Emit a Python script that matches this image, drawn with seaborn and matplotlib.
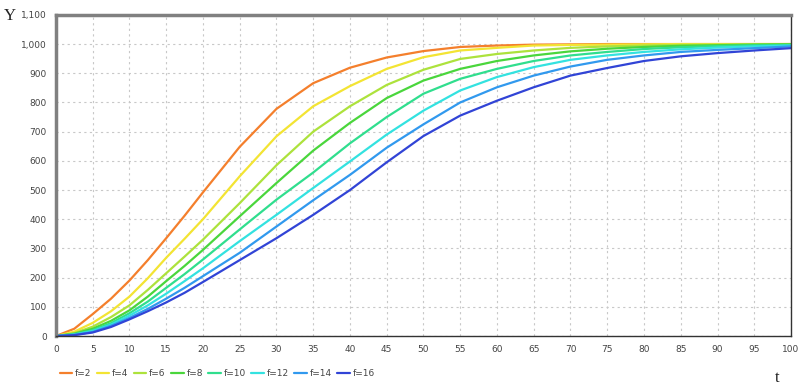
import pandas as pd
import matplotlib
matplotlib.use('Agg')
import matplotlib.pyplot as plt
from matplotlib.ticker import MultipleLocator, FuncFormatter
import seaborn as sns

# values (finer steps where the curves bend early)
t = [0, 2.5, 5, 7.5, 10, 12.5, 15, 17.5, 20, 25, 30, 35, 40, 45, 50, 55, 60, 65, 70, 75, 80, 85, 90, 95, 100]
y_f2 = [0, 25, 75, 128, 190, 260, 335, 412, 492, 648, 778, 866, 919, 954, 976, 990, 995, 998, 999, 1000, 1000, 1000, 1000, 1000, 1000]
y_f4 = [0, 15, 45, 85, 135, 198, 268, 333, 400, 547, 684, 787, 856, 915, 955, 978, 987, 995, 997, 998, 999, 1000, 1000, 1000, 1000]
y_f6 = [0, 10, 32, 65, 105, 158, 215, 272, 330, 455, 585, 700, 787, 860, 912, 949, 966, 978, 987, 992, 995, 997, 998, 999, 1000]
y_f8 = [0, 8, 25, 52, 88, 135, 188, 240, 295, 410, 524, 635, 730, 815, 875, 915, 942, 961, 975, 984, 990, 994, 996, 998, 999]
y_f10 = [0, 6, 20, 44, 78, 118, 165, 212, 262, 365, 467, 560, 660, 750, 830, 881, 915, 942, 961, 973, 983, 989, 993, 996, 997]
y_f12 = [0, 5, 17, 39, 70, 105, 145, 188, 232, 325, 415, 507, 598, 690, 772, 841, 887, 921, 946, 961, 973, 982, 988, 992, 995]
y_f14 = [0, 4, 14, 35, 62, 93, 128, 165, 205, 285, 375, 465, 552, 645, 725, 800, 852, 892, 923, 946, 961, 973, 980, 986, 992]
y_f16 = [0, 3, 12, 31, 57, 85, 115, 148, 185, 260, 335, 415, 500, 595, 685, 755, 806, 852, 892, 918, 942, 958, 969, 978, 986]

labels = ['f=2', 'f=4', 'f=6', 'f=8', 'f=10', 'f=12', 'f=14', 'f=16']
series = [y_f2, y_f4, y_f6, y_f8, y_f10, y_f12, y_f14, y_f16]
colors = ['#f47f2c', '#f3e433', '#ade23c', '#4ad63c', '#30de8e', '#33e2e0', '#3199ee', '#3144d6']

df = pd.concat([pd.DataFrame({'t': t, 'Y': s, 'f': lab}) for lab, s in zip(labels, series)])

sns.set_style('white')
fig = plt.figure(figsize=(7.99, 3.86), dpi=100)
ax = fig.add_axes([0.070, 0.1295, 0.920, 0.832])

sns.lineplot(data=df, x='t', y='Y', hue='f', hue_order=labels,
             palette=dict(zip(labels, colors)), linewidth=1.6, ax=ax)

ax.set_xlim(0, 100)
ax.set_ylim(0, 1100)
ax.xaxis.set_major_locator(MultipleLocator(5))
ax.yaxis.set_major_locator(MultipleLocator(100))
ax.yaxis.set_major_formatter(FuncFormatter(lambda v, p: f'{int(v):,}'))
ax.grid(True, color='#c8c8c8', linestyle=(0, (2, 3)), linewidth=0.8)
ax.tick_params(axis='both', labelsize=6.5, labelcolor='#444444', length=2.5,
               width=1, color='#555555', direction='out', pad=4)
ax.set_xlabel('')
ax.set_ylabel('')

for side in ['top', 'left']:
    ax.spines[side].set_color('#808080')
    ax.spines[side].set_linewidth(2.5)
for side in ['bottom', 'right']:
    ax.spines[side].set_color('#333333')
    ax.spines[side].set_linewidth(1.0)

fig.text(4 / 799, 1 - 16 / 386, 'Y', family='Liberation Serif', fontsize=12,
         va='center', ha='left', color='#222222')
fig.text(775 / 799, 1 - 378 / 386, 't', family='Liberation Serif', fontsize=12,
         va='center', ha='left', color='#222222')

sns.move_legend(ax, 'center left', bbox_to_anchor=(0.0, -0.118), ncol=8,
                frameon=False, title=None, fontsize=6.5, handlelength=1.4,
                handletextpad=0.3, columnspacing=0.6, borderaxespad=0)
for txt in ax.get_legend().get_texts():
    txt.set_color('#444444')

plt.savefig('out.png', dpi=100)
